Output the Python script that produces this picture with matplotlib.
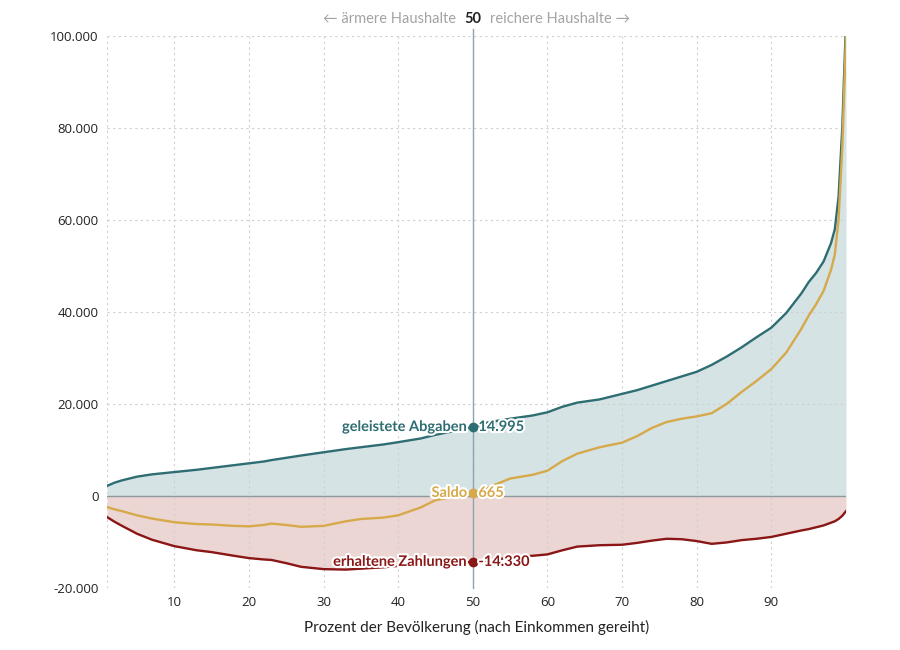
import matplotlib
matplotlib.use("Agg")
import matplotlib.pyplot as plt
import matplotlib.patheffects as pe
from matplotlib.ticker import FuncFormatter

# ---- data ----
perzentil = [1, 2, 3, 5, 7, 10, 13, 15, 18, 20, 22, 23, 25, 27, 30, 33, 35, 38, 40, 43, 45,
             48, 50, 52, 55, 58, 60, 62, 64, 67, 70, 72, 74, 76, 78, 80, 82, 84, 86, 88, 90,
             92, 94, 95, 96, 97, 98, 98.5, 99, 99.5, 100]

abgaben = [2200, 2900, 3400, 4200, 4700, 5200, 5700, 6100, 6700, 7100, 7500, 7800, 8300, 8800,
           9500, 10200, 10600, 11200, 11700, 12500, 13300, 14300, 14995, 16000, 16800, 17500,
           18200, 19400, 20300, 21000, 22200, 23000, 24000, 25000, 26000, 27000, 28500, 30300,
           32300, 34500, 36600, 39800, 44000, 46500, 48500, 51000, 55000, 58000, 65000, 80000,
           103300]

zahlungen = [-4600, -5600, -6500, -8200, -9500, -10900, -11800, -12200, -13000, -13500, -13800,
             -13900, -14600, -15400, -15900, -16000, -15800, -15500, -15200, -15000, -14800,
             -14500, -14330, -14200, -13300, -13000, -12700, -11800, -11000, -10700, -10600,
             -10200, -9700, -9300, -9400, -9800, -10400, -10100, -9600, -9300, -8900, -8200,
             -7500, -7200, -6800, -6400, -5800, -5500, -5000, -4300, -3300]

saldo = [-2400, -2900, -3300, -4200, -4900, -5700, -6100, -6200, -6500, -6600, -6300, -6000,
         -6300, -6700, -6500, -5500, -5000, -4700, -4200, -2500, -900, 0, 665, 1800, 3800, 4600,
         5500, 7600, 9200, 10600, 11600, 13000, 14800, 16100, 16800, 17300, 18000, 20000, 22600,
         25000, 27600, 31200, 36300, 39200, 41700, 44600, 49200, 52500, 60000, 75700, 100000]

x_ticks = [10, 20, 30, 40, 50, 60, 70, 80, 90]
y_ticks = [-20000, 0, 20000, 40000, 60000, 80000, 100000]
mitte = 50
label_abgaben = "geleistete Abgaben"
label_saldo = "Saldo"
label_zahlungen = "erhaltene Zahlungen"
wert_abgaben = "14.995"
wert_saldo = "665"
wert_zahlungen = "-14.330"
x_titel = "Prozent der Bevölkerung (nach Einkommen gereiht)"

# ---- styles ----
c_blue = "#2e6d72"
c_yellow = "#d6a94a"
c_red = "#8a1616"
c_blue_fill = "#d5e3e5"
c_red_fill = "#ecd6d4"
c_grid = "#cfcfcf"
c_text = "#222222"
c_grey = "#a3a3a3"

plt.rcParams['font.family'] = ['Lato', 'DejaVu Sans']

fig = plt.figure(figsize=(9, 6.5), dpi=100)
ax = fig.add_axes([0.119, 0.0954, 0.821, 0.8492])

ax.fill_between(perzentil, 0, abgaben, color=c_blue_fill, lw=0, zorder=1)
ax.fill_between(perzentil, 0, zahlungen, color=c_red_fill, lw=0, zorder=1)

ax.axhline(0, color="#8f9a9f", lw=1.0, zorder=2)

ax.plot(perzentil, abgaben, color=c_blue, lw=1.7, zorder=4, solid_joinstyle="round")
ax.plot(perzentil, saldo, color=c_yellow, lw=1.7, zorder=4, solid_joinstyle="round")
ax.plot(perzentil, zahlungen, color=c_red, lw=1.7, zorder=4, solid_joinstyle="round")

ax.set_xlim(1, 100)
ax.set_ylim(-20000, 100000)

# vertical line at 50 (extends slightly above the plot)
ax.plot([mitte, mitte], [-20000, 101500], color="#8ea3b4", lw=1.0, zorder=3, clip_on=False)

ax.set_xticks(x_ticks)
ax.set_yticks(y_ticks)
ax.yaxis.set_major_formatter(FuncFormatter(lambda v, p: f"{int(v):,}".replace(",", ".")))
ax.tick_params(length=0, labelsize=10, colors=c_text, pad=6)
for t in ax.get_xticklabels() + ax.get_yticklabels():
    t.set_fontfamily(['Open Sans', 'DejaVu Sans'])
    t.set_fontsize(9.5)

ax.grid(True, color=c_grid, ls=(0, (2, 3)), lw=0.8, zorder=0)
for xv in (1, 100):
    ax.axvline(xv, color=c_grid, ls=(0, (2, 3)), lw=0.8, zorder=0)
for s in ax.spines.values():
    s.set_visible(False)

ax.set_xlabel(x_titel, fontsize=11, color=c_text, labelpad=8)

# markers + labels at x = 50
halo = [pe.withStroke(linewidth=3, foreground="white")]
i50 = perzentil.index(mitte)
for vals, col, lab, wert in ((abgaben, c_blue, label_abgaben, wert_abgaben),
                             (saldo, c_yellow, label_saldo, wert_saldo),
                             (zahlungen, c_red, label_zahlungen, wert_zahlungen)):
    yv = vals[i50]
    ax.plot([mitte], [yv], "o", color=col, ms=6, zorder=6)
    ax.annotate(lab, (mitte, yv), xytext=(-4, 0), textcoords="offset points",
                ha="right", va="center", fontsize=10.5, fontweight="bold", color=col,
                path_effects=halo, zorder=7)
    ax.annotate(wert, (mitte, yv), xytext=(4, 0), textcoords="offset points",
                ha="left", va="center", fontsize=10.5, fontweight="bold", color=col,
                path_effects=halo, zorder=7)

# header
fig.text(473 / 900, 1 - 19 / 650, "50", ha="center", va="center", fontsize=10.5,
         fontweight="bold", color=c_text)
fig.text(456 / 900, 1 - 19 / 650, "\u2190 ärmere Haushalte", ha="right", va="center",
         fontsize=10.5, color=c_grey)
fig.text(490 / 900, 1 - 19 / 650, "reichere Haushalte \u2192", ha="left", va="center",
         fontsize=10.5, color=c_grey)

fig.savefig("out.png", dpi=100)
